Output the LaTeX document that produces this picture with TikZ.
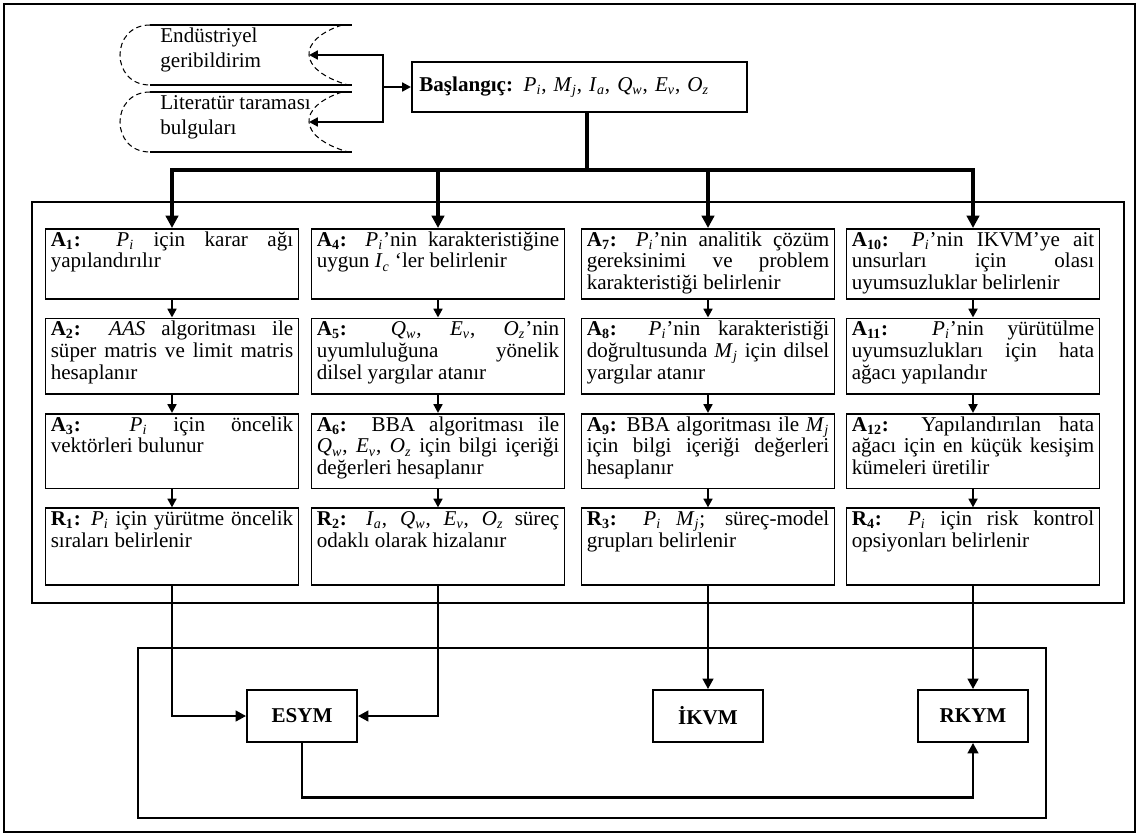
\documentclass[tikz,border=0pt]{standalone}
\usepackage{fontspec}
\setmainfont{Liberation Serif}
\usetikzlibrary{positioning,arrows.meta,calc}

\tolerance=10000
\hyphenpenalty=10000
\newcommand{\iv}[2]{\textit{#1}\textsubscript{\textit{#2}}}
\newcommand{\stp}[1]{\textbf{A\textsubscript{#1}:}}
\newcommand{\res}[1]{\textbf{R\textsubscript{#1}:}}
\newcommand{\bx}[2]{\parbox[t][#1][t]{138pt}{\strut #2}}

\begin{document}
\begin{tikzpicture}[
    x=0.02cm, y=-0.02cm,
    font=\fontsize{12}{12.5}\selectfont,
    node distance=0.36cm,
    stepbox/.style={draw, line width=1pt, anchor=north, inner xsep=3pt, inner ysep=1pt},
    endbox/.style={draw, line width=1pt, minimum width=2.2cm, minimum height=1.04cm, inner sep=0pt, font=\fontsize{12}{14}\selectfont\bfseries},
    frame/.style={line width=0.9pt},
    curve/.style={line width=0.6pt, densely dashed},
    link/.style={line width=1.2pt, -{Triangle[length=5pt,width=5pt]}},
    flow/.style={line width=1.5pt, -{Triangle[length=5pt,width=5pt]}},
    busline/.style={line width=2.2pt},
    busarrow/.style={busline, -{Triangle[length=7pt,width=7pt]}},
    feed/.style={line width=1.6pt, -{Triangle[length=6pt,width=6pt]}}
]
\useasboundingbox (0,0) rectangle (1139,836);
\draw[frame] (4,4) rectangle (1135,832);

% sources
\foreach \t/\b in {25/85, 92/152} {
    \draw[line width=0.8pt] (150,\t) -- (352,\t);
    \draw[line width=0.8pt] (150,\b) -- (352,\b);
    \draw[curve] (150,\t) .. controls (110,\t) and (110,\b) .. (150,\b);
    \draw[curve] (342,\t) .. controls (297,\t+15) and (297,\b-15) .. (348,\b);
}
\coordinate (tip1) at (309,55);
\coordinate (tip2) at (309,122);
\node[anchor=west, align=left, inner sep=0pt, font=\fontsize{12}{14.2}\selectfont] (ind) at (160,50) {Endüstriyel\\geribildirim};
\node[anchor=west, align=left, inner sep=0pt, font=\fontsize{12}{14.2}\selectfont] (lit) at (160,117) {Literatür taraması\\bulguları};

\node[draw, line width=1pt, anchor=west, text width=6.4cm, minimum height=1cm, inner xsep=0.15cm, align=left] (start) at (411,87)
    {\textbf{Başlangıç:} \iv{P}{i}, \iv{M}{j}, \iv{I}{a}, \iv{Q}{w}, \iv{E}{v}, \iv{O}{z}};

\coordinate (jn) at (383,87);
\draw[link] (jn) -- (start.west);
\draw[link] (jn) |- (tip1);
\draw[link] (jn) |- (tip2);

% steps
\draw[frame] (32,202) rectangle (1124,603);

\node[stepbox] (a1) at (172,228) {\bx{37.7pt}{\stp{1} \iv{P}{i} için karar ağı\linebreak yapılandırılır}};
\node[stepbox, below=of a1] (a2) {\bx{41.1pt}{\stp{2} \textit{AAS} algoritması ile\linebreak süper matris ve limit matris\linebreak hesaplanır}};
\node[stepbox, below=of a2] (a3) {\bx{40.5pt}{\stp{3} \iv{P}{i} için öncelik\linebreak vektörleri bulunur}};
\node[stepbox, below=of a3] (r1) {\bx{41.7pt}{\res{1} \iv{P}{i} için yürütme öncelik\linebreak sıraları belirlenir}};

\node[stepbox] (a4) at (438,228) {\bx{37.7pt}{\stp{4} \iv{P}{i}’nin karakteristiğine\linebreak uygun \iv{I}{c} ‘ler belirlenir}};
\node[stepbox, below=of a4] (a5) {\bx{41.1pt}{\stp{5} \iv{Q}{w}, \iv{E}{v}, \iv{O}{z}’nin\linebreak uyumluluğuna yönelik\linebreak dilsel yargılar atanır}};
\node[stepbox, below=of a5] (a6) {\bx{40.5pt}{\stp{6} BBA algoritması ile\linebreak \iv{Q}{w}, \iv{E}{v}, \iv{O}{z} için bilgi içeriği\linebreak değerleri hesaplanır}};
\node[stepbox, below=of a6] (r2) {\bx{41.7pt}{\res{2} \iv{I}{a}, \iv{Q}{w}, \iv{E}{v}, \iv{O}{z} süreç\linebreak odaklı olarak hizalanır}};

\node[stepbox] (a7) at (708,228) {\bx{37.7pt}{\stp{7} \iv{P}{i}’nin analitik çözüm\linebreak gereksinimi ve problem\linebreak karakteristiği belirlenir}};
\node[stepbox, below=of a7] (a8) {\bx{41.1pt}{\stp{8} \iv{P}{i}’nin karakteristiği\linebreak doğrultusunda \iv{M}{j} için dilsel\linebreak yargılar atanır}};
\node[stepbox, below=of a8] (a9) {\bx{40.5pt}{\stp{9} BBA algoritması ile \iv{M}{j}\linebreak için bilgi içeriği değerleri\linebreak hesaplanır}};
\node[stepbox, below=of a9] (r3) {\bx{41.7pt}{\res{3} \iv{P}{i} \iv{M}{j}; süreç-model\linebreak grupları belirlenir}};

\node[stepbox] (a10) at (973,228) {\bx{37.7pt}{\stp{10} \iv{P}{i}’nin IKVM’ye ait\linebreak unsurları için olası\linebreak uyumsuzluklar belirlenir}};
\node[stepbox, below=of a10] (a11) {\bx{41.1pt}{\stp{11} \iv{P}{i}’nin yürütülme\linebreak uyumsuzlukları için hata\linebreak ağacı yapılandır}};
\node[stepbox, below=of a11] (a12) {\bx{40.5pt}{\stp{12} Yapılandırılan hata\linebreak ağacı için en küçük kesişim\linebreak kümeleri üretilir}};
\node[stepbox, below=of a12] (r4) {\bx{41.7pt}{\res{4} \iv{P}{i} için risk kontrol\linebreak opsiyonları belirlenir}};

\coordinate (bus) at (587,170);
\draw[busline] (bus |- start.south) -- (bus);
\foreach \c in {a1,a4,a7,a10}
    \draw[busarrow] (bus) -| (\c.north);

\foreach \u/\v in {a1/a2,a2/a3,a3/r1,a4/a5,a5/a6,a6/r2,a7/a8,a8/a9,a9/r3,a10/a11,a11/a12,a12/r4}
    \draw[flow] (\u.south) -- (\v.north);

% models
\draw[frame] (138,648) rectangle (1046,818);
\node[endbox] (esym) at (302,716) {ESYM};
\node[endbox] (ikvm) at (708,716) {İKVM};
\node[endbox] (rkym) at (973,716) {RKYM};

\draw[feed] (r1.south) |- (esym.west);
\draw[feed] (r2.south) |- (esym.east);
\draw[feed] (r3.south) -- (ikvm.north);
\draw[feed] (r4.south) -- (rkym.north);
\draw[feed] (esym.south) -- ++(0,55) -| (rkym.south);
\end{tikzpicture}
\end{document}
